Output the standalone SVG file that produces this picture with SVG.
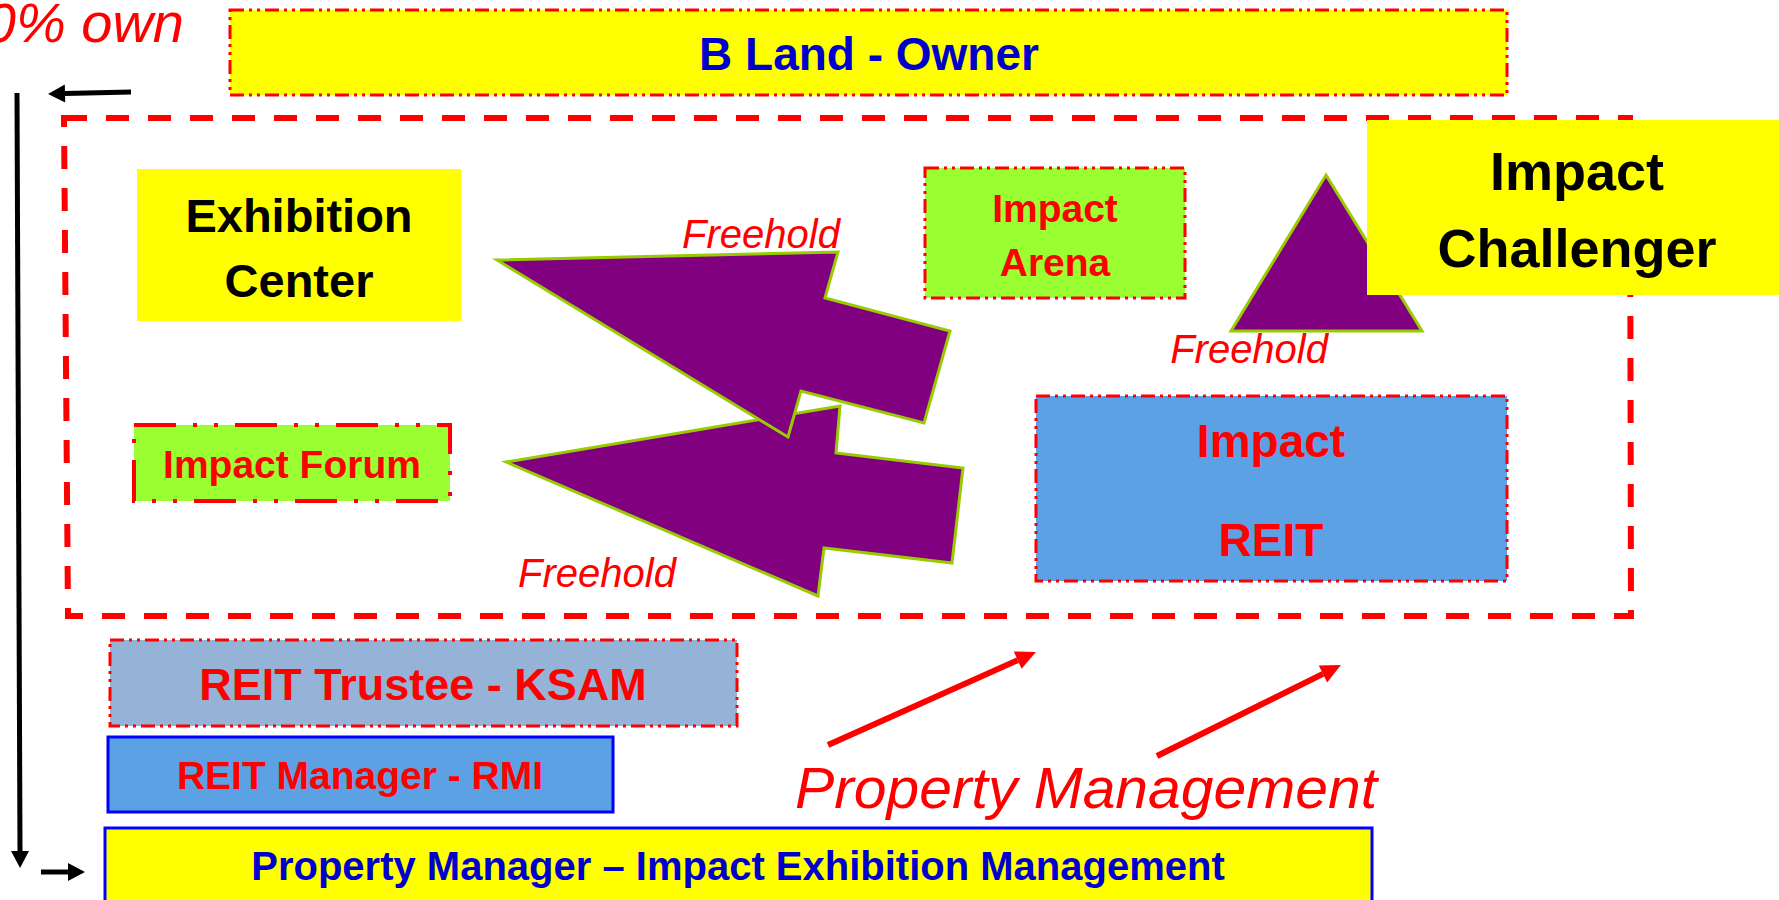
<svg xmlns="http://www.w3.org/2000/svg" width="1779" height="900" viewBox="0 0 1779 900">
<style>
.t{font-family:"Liberation Sans",Arial,sans-serif;font-weight:bold;text-anchor:middle}
.it{font-family:"Liberation Sans",Arial,sans-serif;font-style:italic;fill:#FF0000}
.dd{stroke:#FF0000;stroke-width:3;stroke-dasharray:14 5 3 5 3 5}
.yel{fill:#FFFF00}
.grn{fill:#99FF33}
.blu{fill:#5DA1E5}
.blk{stroke:#000;stroke-width:5;fill:none}
.red{stroke:#FF0000;stroke-width:6;fill:none}
.pur{fill:#800080;stroke:#99CC00;stroke-width:3;stroke-linejoin:miter}
</style>
<defs>
<marker id="ahB" markerUnits="userSpaceOnUse" markerWidth="18" markerHeight="18" refX="0" refY="9" orient="auto" overflow="visible"><path d="M0,0 L17,9 L0,18 Z" fill="#000"/></marker>
<marker id="ahR" markerUnits="userSpaceOnUse" markerWidth="22" markerHeight="20" refX="0" refY="9.5" orient="auto" overflow="visible"><path d="M0,0 L20,9.5 L0,19 Z" fill="#FF0000"/></marker>
</defs>
<rect width="1779" height="900" fill="#FFFFFF"/>
<path id="group-box" d="M64,118 L1630,118 L1631,616 L68,616 Z" fill="none" stroke="#FF0000" stroke-width="6" stroke-dasharray="23 19"/>
<text class="it" x="184" y="42" font-size="56" text-anchor="end">0% own</text>
<g id="connectors">
<polygon class="pur" points="506,462 840,406 836,453 963,468 952,563 824,548 818,596"/>
<polygon class="pur" points="497,260 838,252 825,298 950,331 924,423 801,391 788,437"/>
<polygon class="pur" points="1326,175 1422,331 1231,331"/>
<line class="blk" x1="131" y1="92" x2="65" y2="93.5" marker-end="url(#ahB)"/>
<line class="blk" x1="17" y1="93" x2="20" y2="851" marker-end="url(#ahB)"/>
<line class="blk" x1="41" y1="872" x2="68" y2="872" marker-end="url(#ahB)"/>
<line class="red" x1="828" y1="745" x2="1017.7" y2="660.2" marker-end="url(#ahR)"/>
<line class="red" x1="1157" y1="756" x2="1323" y2="673.9" marker-end="url(#ahR)"/>
<text class="it" x="682" y="248" font-size="40">Freehold</text>
<text class="it" x="1328" y="363" font-size="40" text-anchor="end">Freehold</text>
<text class="it" x="518" y="587" font-size="40">Freehold</text>
<text class="it" x="795" y="808" font-size="57" textLength="582" lengthAdjust="spacingAndGlyphs">Property Management</text>
</g>
<g id="b-land">
<rect class="yel dd" x="230" y="10" width="1277" height="85"/>
<text class="t" x="869" y="70" font-size="46" fill="#0000CC">B Land - Owner</text>
</g>
<g id="exhibition-center">
<rect class="yel" x="137" y="169" width="324" height="152"/>
<text class="t" x="299" y="232" font-size="47" fill="#000">Exhibition</text>
<text class="t" x="299" y="297" font-size="47" fill="#000">Center</text>
</g>
<g id="impact-arena">
<rect class="grn dd" x="925" y="168" width="260" height="130"/>
<text class="t" x="1055" y="222" font-size="39" fill="#FF0000">Impact</text>
<text class="t" x="1055" y="276" font-size="39" fill="#FF0000">Arena</text>
</g>
<g id="impact-challenger">
<rect class="yel" x="1367" y="120" width="420" height="175"/>
<text class="t" x="1577" y="190" font-size="54" fill="#000">Impact</text>
<text class="t" x="1577" y="267" font-size="54" fill="#000">Challenger</text>
</g>
<g id="impact-forum">
<rect class="grn" x="134" y="425" width="316" height="76" stroke="#FF0000" stroke-width="4" stroke-dasharray="42 17 4 17 4 17"/>
<text class="t" x="292" y="478" font-size="39" fill="#FF0000">Impact Forum</text>
</g>
<g id="impact-reit">
<rect class="blu dd" x="1036" y="396" width="471" height="185"/>
<text class="t" x="1271" y="457" font-size="46" fill="#FF0000">Impact</text>
<text class="t" x="1271" y="556" font-size="46" fill="#FF0000">REIT</text>
</g>
<g id="reit-trustee">
<rect class="dd" x="110" y="640" width="627" height="86" fill="#95B3D7"/>
<text class="t" x="423" y="700" font-size="45" fill="#FF0000">REIT Trustee - KSAM</text>
</g>
<g id="reit-manager">
<rect class="blu" x="108" y="737" width="505" height="75" stroke="#0000FF" stroke-width="3"/>
<text class="t" x="360" y="789" font-size="39" fill="#FF0000">REIT Manager - RMI</text>
</g>
<g id="property-manager">
<rect class="yel" x="105" y="828" width="1267" height="80" stroke="#0000FF" stroke-width="3"/>
<text class="t" x="738" y="880" font-size="40" fill="#0000CC">Property Manager – Impact Exhibition Management</text>
</g>
</svg>
